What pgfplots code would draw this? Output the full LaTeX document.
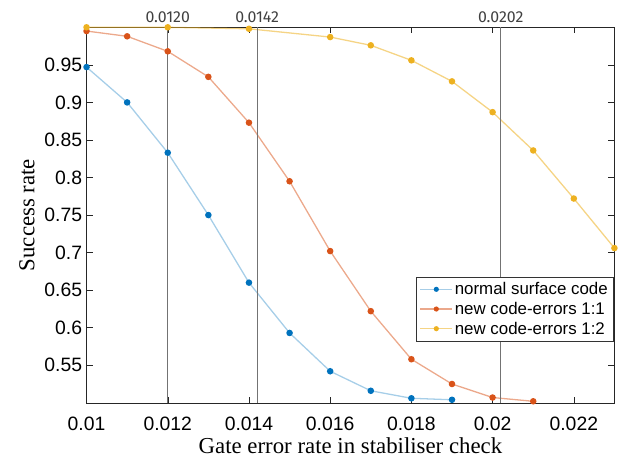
\documentclass[border={16bp 1bp 4bp 8bp}]{standalone}
\usepackage{fontspec}
\setmainfont{Liberation Serif}
\newfontfamily\helv{Liberation Sans}
\newfontfamily\topfont{Fira Sans}
\usepackage{pgfplots}
\pgfplotsset{compat=1.18}

\definecolor{mblue}{rgb}{0,0.447,0.741}
\definecolor{mred}{rgb}{0.85,0.325,0.098}
\definecolor{myel}{rgb}{0.929,0.694,0.125}

\begin{document}
\begin{tikzpicture}
\begin{axis}[
    scale only axis,
    width=530bp, height=377bp,
    clip=false,
    xmin=0.01, xmax=0.023, ymin=0.5, ymax=1.0,
    scaled x ticks=false, scaled y ticks=false,
    xtick={0.01,0.012,0.014,0.016,0.018,0.02,0.022},
    xticklabels={0.01,0.012,0.014,0.016,0.018,0.02,0.022},
    ytick={0.55,0.6,0.65,0.7,0.75,0.8,0.85,0.9,0.95},
    yticklabels={0.55,0.6,0.65,0.7,0.75,0.8,0.85,0.9,0.95},
    ticklabel style={font=\fontsize{19.5}{21}\helv},
    yticklabel style={xshift=-1bp},
    xticklabel style={anchor=base, yshift=-28bp},
    major tick length=6bp,
    xlabel={Gate error rate in stabiliser check},
    ylabel={Success rate},
    label style={font=\fontsize{23}{26}\selectfont},
    xlabel style={at={(axis description cs:0.5,0)}, anchor=base, yshift=-51bp},
    ylabel style={yshift=3bp},
    axis line style={black!85},
    every tick/.style={black!85},
    legend style={at={(0.998,0.164)}, anchor=south east,
        font=\fontsize{17}{19}\helv, draw=black!80,
        row sep=2bp, inner sep=3.5bp},
    legend cell align=left,
    legend image code/.code={
        \draw[#1, mark=none] (0bp,0bp) -- (32bp,0bp);
        \fill[#1, opacity=1, draw opacity=0] (16bp,0bp) circle (2.6bp);
    },
]
\addplot[color=mblue, draw opacity=0.35, line width=1.3pt,
    mark=*, mark size=2.6bp, mark options={opacity=1, draw=none, fill=mblue}]
  coordinates {
    (0.010,0.947) (0.011,0.900) (0.012,0.833) (0.013,0.750) (0.014,0.660)
    (0.015,0.593) (0.016,0.542) (0.017,0.516) (0.018,0.506) (0.019,0.504)
  };
\addlegendentry{normal surface code}
\addplot[color=mred, draw opacity=0.5, line width=1.3pt,
    mark=*, mark size=2.6bp, mark options={opacity=1, draw=none, fill=mred}]
  coordinates {
    (0.010,0.995) (0.011,0.988) (0.012,0.968) (0.013,0.934) (0.014,0.873)
    (0.015,0.795) (0.016,0.702) (0.017,0.622) (0.018,0.558) (0.019,0.525)
    (0.020,0.507) (0.021,0.502)
  };
\addlegendentry{new code-errors 1:1}
\addplot[color=myel, draw opacity=0.55, line width=1.3pt,
    mark=*, mark size=2.6bp, mark options={opacity=1, draw=none, fill=myel}]
  coordinates {
    (0.010,1.000) (0.012,1.000) (0.014,0.998) (0.016,0.987) (0.017,0.976)
    (0.018,0.956) (0.019,0.928) (0.020,0.887) (0.021,0.836) (0.022,0.772)
    (0.023,0.706)
  };
\addlegendentry{new code-errors 1:2}
\draw[black!55, line width=0.8pt] (axis cs:0.0120,0.5) -- (axis cs:0.0120,1.0)
    node[above, black!75, font=\fontsize{16}{18}\topfont, inner sep=4bp] {0.0120};
\draw[black!55, line width=0.8pt] (axis cs:0.0142,0.5) -- (axis cs:0.0142,1.0)
    node[above, black!75, font=\fontsize{16}{18}\topfont, inner sep=4bp] {0.0142};
\draw[black!55, line width=0.8pt] (axis cs:0.0202,0.5) -- (axis cs:0.0202,1.0)
    node[above, black!75, font=\fontsize{16}{18}\topfont, inner sep=4bp] {0.0202};
\end{axis}
\end{tikzpicture}
\end{document}
